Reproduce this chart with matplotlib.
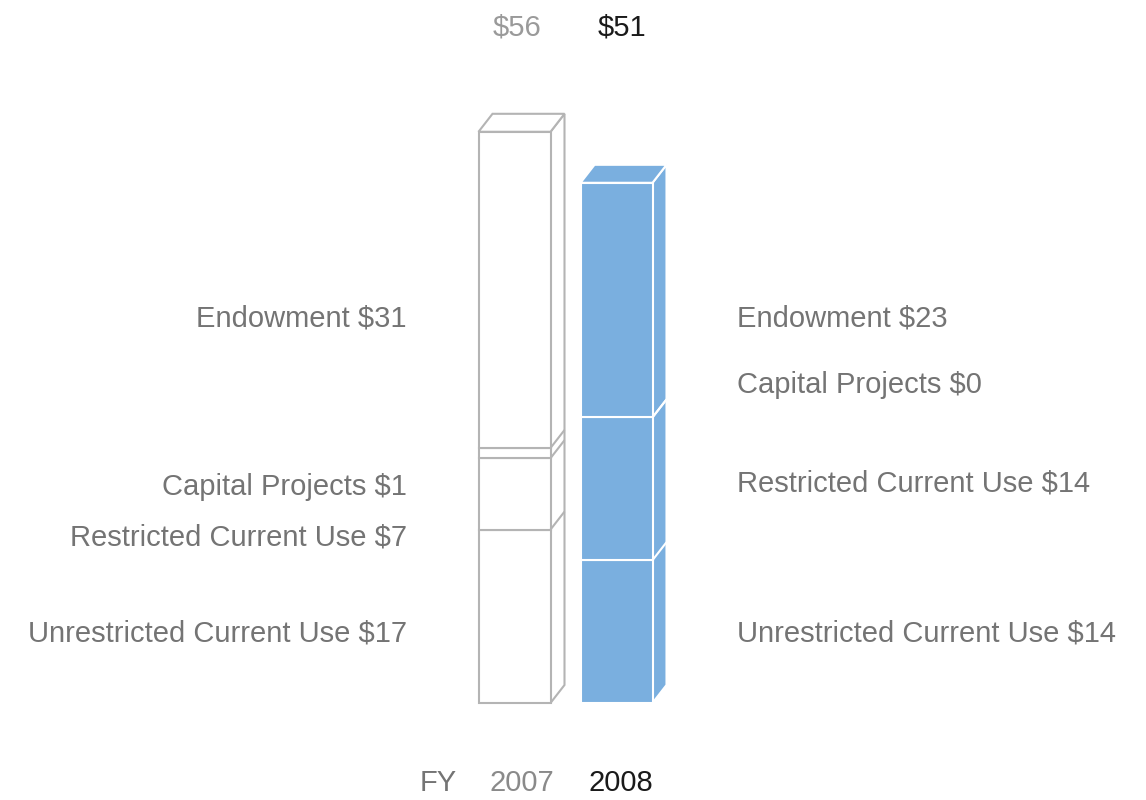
import numpy as np
import matplotlib
matplotlib.use("Agg")
import matplotlib.pyplot as plt
from matplotlib.patches import Polygon

plt.rcParams['font.family'] = ['Liberation Sans', 'DejaVu Sans']

# data
years = ['2007', '2008']
segments = ['Unrestricted Current Use', 'Restricted Current Use', 'Capital Projects', 'Endowment']
vals_2007 = [17, 7, 1, 31]
vals_2008 = [14, 14, 0, 23]
totals = ['$56', '$51']

W, H = 1146, 800
fig = plt.figure(figsize=(W / 100, H / 100), dpi=100)
ax = fig.add_axes([0, 0, 1, 1])
ax.axis('off')

px_per_unit = 10.2      # vertical scale
px_per_cat = 102        # horizontal spacing between bars
x0_px, y0_px = 514.5, 703
ax.set_xlim(-x0_px / px_per_cat, (W - x0_px) / px_per_cat)
ax.set_ylim(-(H - y0_px) / px_per_unit, y0_px / px_per_unit)

bw = 72 / px_per_cat
dx = 14 / px_per_cat
dy = 18 / px_per_unit

gray = '#b4b4b4'
blue = '#7aafdf'

def draw_bar(i, vals, face, edge, lw):
    left = i - bw / 2
    right = i + bw / 2
    bottoms = np.concatenate([[0], np.cumsum(vals)[:-1]])
    tops = np.cumsum(vals)
    total = tops[-1]
    # side face
    side = Polygon([(right, 0), (right + dx, dy), (right + dx, total + dy), (right, total)],
                   closed=True, facecolor=face, edgecolor=edge, lw=lw, zorder=2)
    ax.add_patch(side)
    # top face
    top = Polygon([(left, total), (left + dx, total + dy), (right + dx, total + dy), (right, total)],
                  closed=True, facecolor=face, edgecolor=edge, lw=lw, zorder=2)
    ax.add_patch(top)
    # front segments
    for b, v in zip(bottoms, vals):
        if v > 0:
            ax.bar(i, v, bottom=b, width=bw, color=face, edgecolor=edge, lw=lw, zorder=3)
    # segment lines on side face
    for t in tops[:-1]:
        ax.plot([right, right + dx], [t, t + dy], color=edge, lw=lw, zorder=3,
                solid_capstyle='butt')

draw_bar(0, vals_2007, 'white', gray, 1.5)
draw_bar(1, vals_2008, blue, 'white', 1.5)

lab_color = '#747474'
fs = 21

def px(x, y):
    return x / W, 1 - y / H

# left labels (2007)
left_y = [633, 537, 487, 319]
for name, v, y in zip(segments, vals_2007, left_y):
    fig.text(*px(407, y), f'{name} ${v}', ha='right', va='center', fontsize=fs, color=lab_color)

# right labels (2008)
right_y = [633, 484, 385, 319]
for name, v, y in zip(segments, vals_2008, right_y):
    fig.text(*px(737, y), f'{name} ${v}', ha='left', va='center', fontsize=fs, color=lab_color)

# totals on top
fig.text(*px(517, 28), totals[0], ha='center', va='center', fontsize=fs, color='#9a9a9a')
fig.text(*px(622, 28), totals[1], ha='center', va='center', fontsize=fs, color='#1a1a1a')

# year labels
fig.text(*px(438, 783), 'FY', ha='center', va='center', fontsize=fs, color=lab_color)
fig.text(*px(522, 783), years[0], ha='center', va='center', fontsize=fs, color='#8a8a8a')
fig.text(*px(621, 783), years[1], ha='center', va='center', fontsize=fs, color='#1a1a1a')

fig.savefig('out.png', dpi=100)
